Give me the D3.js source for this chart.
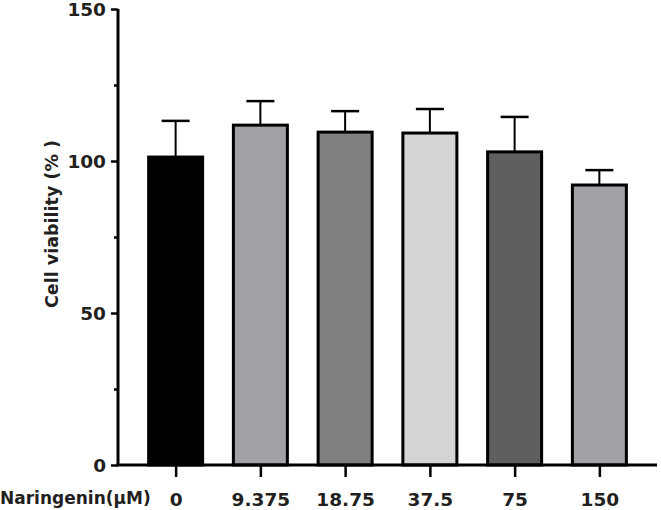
<!DOCTYPE html>
<html>
<head>
<meta charset="utf-8">
<script src="https://cdn.jsdelivr.net/npm/d3@7"></script>
<style>
  body { margin: 0; background: #fff; }
  text { font-family: "DejaVu Sans", Arial, sans-serif; font-weight: bold; fill: #231f20; }
</style>
</head>
<body>
<div id="chart"></div>
<script>
// data
var doses = ["0", "9.375", "18.75", "37.5", "75", "150"];
var viability = [101.3, 111.8, 109.5, 109.2, 103, 92.1];
var errUp = [11.9, 7.9, 6.9, 7.9, 11.5, 4.9];
var fills = ["#000000", "#a1a1a5", "#808080", "#d4d4d4", "#5f5f5f", "#a1a1a5"];
var yTicks = [0, 50, 100, 150];
var yMinor = [25, 75, 125];

var width = 661, height = 510;

var svg = d3.select("#chart").append("svg")
    .attr("width", width)
    .attr("height", height);

var x = d3.scalePoint()
    .domain(doses)
    .range([118, 657])
    .padding(0.68);

var y = d3.scaleLinear()
    .domain([0, 150])
    .range([465, 9]);

var barW = 54;

// bars
svg.selectAll("rect.bar")
    .data(viability)
    .enter().append("rect")
    .attr("class", "bar")
    .attr("x", function (d, i) { return x(doses[i]) - barW / 2; })
    .attr("y", function (d) { return y(d); })
    .attr("width", barW)
    .attr("height", function (d) { return y(0) - y(d); })
    .style("fill", function (d, i) { return fills[i]; })
    .style("stroke", "#000")
    .style("stroke-width", 3);

// error bars (upper only)
var err = svg.selectAll("g.err")
    .data(viability)
    .enter().append("g")
    .attr("class", "err");

err.append("line")
    .attr("x1", function (d, i) { return x(doses[i]); })
    .attr("x2", function (d, i) { return x(doses[i]); })
    .attr("y1", function (d) { return y(d); })
    .attr("y2", function (d, i) { return y(d + errUp[i]); })
    .style("stroke", "#000")
    .style("stroke-width", 2);

err.append("line")
    .attr("x1", function (d, i) { return x(doses[i]) - 14; })
    .attr("x2", function (d, i) { return x(doses[i]) + 14; })
    .attr("y1", function (d, i) { return y(d + errUp[i]); })
    .attr("y2", function (d, i) { return y(d + errUp[i]); })
    .style("stroke", "#000")
    .style("stroke-width", 2.5);

// y axis
var yAxis = svg.append("g")
    .attr("transform", "translate(118,0)")
    .call(d3.axisLeft(y).tickValues(yTicks).tickSize(7).tickPadding(5));

svg.append("g")
    .attr("transform", "translate(118,0)")
    .call(d3.axisLeft(y).tickValues(yMinor).tickSize(4).tickFormat(""))
    .call(function (g) { g.select(".domain").remove(); })
    .selectAll("line").style("stroke", "#000").style("stroke-width", 2.5);

yAxis.select(".domain").attr("d", "M0," + y(0) + "V" + y(150)).style("stroke", "#000").style("stroke-width", 3);
yAxis.selectAll(".tick line").style("stroke", "#000").style("stroke-width", 2.5);
yAxis.selectAll("text")
    .style("font-size", "18.5px")
    .attr("dy", "0.36em");

// x axis
var xAxis = svg.append("g")
    .attr("transform", "translate(0," + y(0) + ")")
    .call(d3.axisBottom(x).tickSize(12).tickPadding(16));

xAxis.select(".domain").attr("d", "M116.5,0H657").style("stroke", "#000").style("stroke-width", 3);
xAxis.selectAll(".tick line").style("stroke", "#000").style("stroke-width", 2.5);
xAxis.selectAll("text")
    .style("font-size", "18.5px");

svg.selectAll("text").attr("font-family", null).attr("font-size", null);

// axis titles
svg.append("text")
    .attr("x", 0)
    .attr("y", 504)
    .style("font-size", "17px")
    .text("Naringenin(μM)");

svg.append("text")
    .attr("transform", "translate(58,224) rotate(-90)")
    .attr("text-anchor", "middle")
    .style("font-size", "17.5px")
    .text("Cell viability (% )");
</script>
</body>
</html>
